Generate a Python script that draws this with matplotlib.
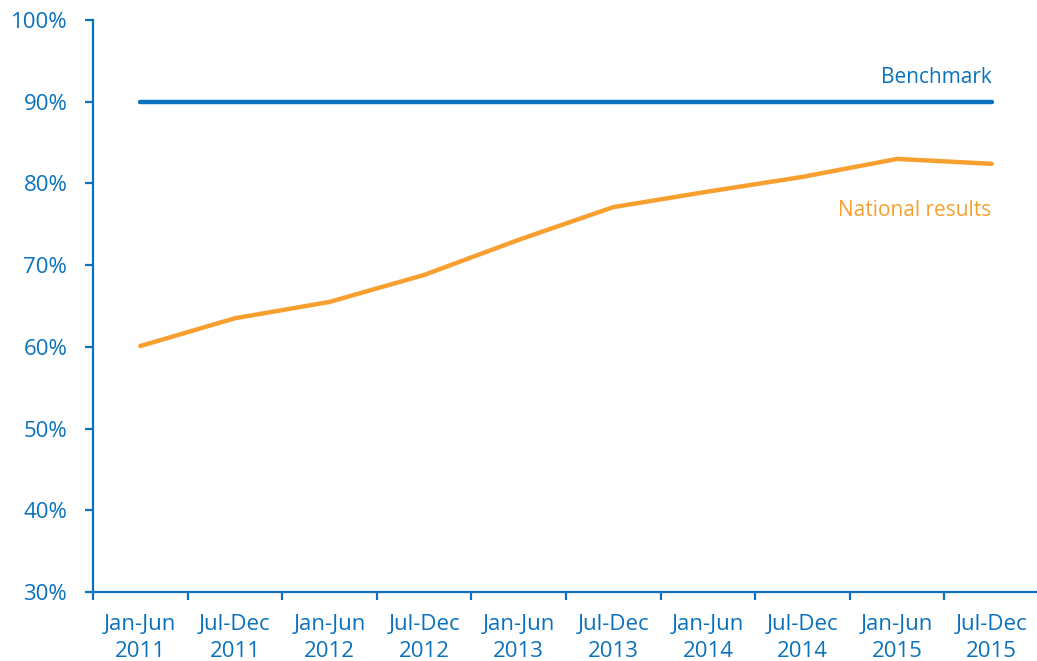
import matplotlib
matplotlib.use("Agg")
import matplotlib.pyplot as plt

categories = ["Jan-Jun\n2011", "Jul-Dec\n2011", "Jan-Jun\n2012", "Jul-Dec\n2012",
              "Jan-Jun\n2013", "Jul-Dec\n2013", "Jan-Jun\n2014", "Jul-Dec\n2014",
              "Jan-Jun\n2015", "Jul-Dec\n2015"]
national = [60.1, 63.5, 65.5, 68.8, 73.1, 77.1, 79.0, 80.8, 83.0, 82.4]
benchmark = [90] * len(categories)
yticks = [30, 40, 50, 60, 70, 80, 90, 100]

BLUE = "#0a72bd"
ORANGE = "#f7a030"

plt.rcParams['font.family'] = ['Open Sans', 'DejaVu Sans']

fig = plt.figure(figsize=(10.37, 6.61), dpi=100)
ax = fig.add_axes([93/1037, 69/661, (1039-93)/1037, (592-20)/661])

x = list(range(len(categories)))
ax.plot(x, benchmark, color=BLUE, lw=3.2, solid_capstyle='round', clip_on=False)
ax.plot(x, national, color=ORANGE, lw=3.2, solid_capstyle='round', clip_on=False)

ax.text(x[-1], 92.95, "Benchmark", color=BLUE, fontsize=15, ha='right', va='center')
ax.text(x[-1], 76.7, "National results", color=ORANGE, fontsize=15, ha='right', va='center')

ax.set_xlim(-0.5, len(categories) - 0.5)
ax.set_ylim(30, 100)
ax.set_yticks(yticks)
ax.set_yticklabels([f"{v}%" for v in yticks])
ax.set_xticks([i - 0.5 for i in range(len(categories))])
ax.set_xticklabels([])
ax.set_xticks(x, minor=True)
ax.set_xticklabels(categories, minor=True)

for s in ['top', 'right']:
    ax.spines[s].set_visible(False)
for s in ['left', 'bottom']:
    ax.spines[s].set_color(BLUE)
    ax.spines[s].set_linewidth(1.6)

ax.tick_params(axis='y', colors=BLUE, labelsize=16, length=5.5, width=1.6, pad=13)
ax.tick_params(axis='x', which='major', colors=BLUE, length=5.5, width=1.6)
ax.tick_params(axis='x', which='minor', colors=BLUE, labelsize=16, length=0, pad=15.5)
for lbl in ax.get_xticklabels(minor=True):
    lbl.set_linespacing(1.42)

fig.savefig("out.png", dpi=100, facecolor='white')
